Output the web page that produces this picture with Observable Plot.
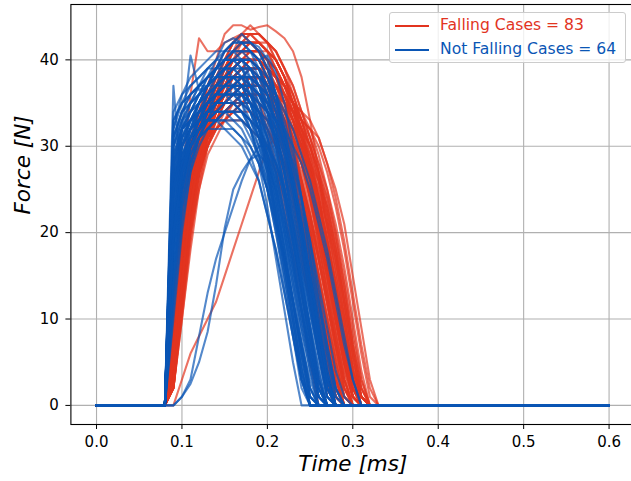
<!DOCTYPE html>
<html>
<head>
<meta charset="utf-8">
<script src="https://cdn.jsdelivr.net/npm/d3@7"></script>
<script src="https://cdn.jsdelivr.net/npm/@observablehq/plot@0.6"></script>
<style>
  html, body { margin: 0; padding: 0; background: white; overflow: hidden; }
  #wrap { position: relative; width: 631px; height: 481px; }
  #legend { position: absolute; left: 389px; top: 12px; width: 235px; height: 49px;
    background: rgba(255,255,255,0.8); border: 1px solid #cccccc; border-radius: 3px;
    font-family: "DejaVu Sans", sans-serif; font-size: 15.6px; }
  .item { position: absolute; left: 0; height: 20px; }
  .item .sw { position: absolute; left: 5px; width: 34px; height: 2px; }
  .item .lb { position: absolute; left: 50px; white-space: nowrap; line-height: 20px; top: -10px; }
</style>
</head>
<body>
<div id="wrap"></div>
<script>
// Sample times (ms) of each force curve, from impact onset
const tGrid = [0.08,0.09,0.10,0.11,0.12,0.13,0.14,0.15,0.16,0.17,0.18,0.19,0.20,0.21,0.22,0.23,0.24,0.25,0.26,0.27,0.28,0.29,0.30,0.31,0.32,0.33];
const tStart = 0.0;
const tEnd = 0.6;

// Falling cases: force [N] at tGrid (zero elsewhere)
const falling = [
[0,6,18,26,30,33,35,37,38,39,39,38,36,33,29,24,18,12,6,1,0],
[0,10,22,28,31,33,35,36,37,37,36,34,31,27,22,17,11,5,0],
[0,4,14,22,28,32,35,38,40,41,41,40,38,35,31,26,20,14,8,3,0],
[0,12,24,29,32,34,36,38,39,40,40,39,37,34,30,25,20,14,8,2,0],
[0,8,19,25,29,32,34,35,36,37,37,36,35,33,30,27,23,18,13,8,3,0],
[0,5,16,25,32,37,40,43,44,44,43.5,43.8,44,43.3,42.5,41,38,33,27,20,13,7,2,0],
[0,10,26,36,42.5,41,41,42,42.5,43,42,41,39,36,32,27,21,15,9,4,0],
[0,0,3,6,8,10,12,15,18,21,24,27,30,31,30,27,22,16,10,5,1,0],
[0,5,15,23,28,32,35,37,39,40,40,39,38,37,35,34,33,32,31,28,25,21,15,9,3,0],
[0,3,12,21,27,31,34,36,38,39,40,40,39,38,36,34,31,28,24,19,14,8,3,0],
[0,7,20,27,31,34,37,39,41,42,42,41,40,38,35,31,26,21,15,9,4,0],
[0,9,21,27,30,32,33,34,34,35,35,34,33,31,28,24,19,14,8,3,0],
[0,2,11,20,26,30,33,35,37,38,38,38,37,35,33,30,26,22,17,12,7,2,0],
[0,11,23,29,33,36,38,40,41,42,42,41,39,36,32,27,22,16,10,4,0],
[0,6,17,24,28,31,33,34,35,35,35,34,33,32,30,27,24,20,15,10,5,1,0],
[0,4,16,25,30,34,37,39,41,42,43,42,41,39,37,34,30,26,21,16,10,5,1,0],
[0,13,25,30,33,35,36,37,38,38,37,35,32,28,23,18,13,8,3,0],
[0,5,14,22,27,30,32,34,35,36,37,37,36,35,33,31,28,25,21,16,11,6,2,0],
[0,8,20,27,32,35,38,40,41,41,41,40,38,35,31,27,22,17,11,6,1,0],
[0,3,13,23,29,33,36,39,41,43,43,43,42,40,38,35,31,27,22,17,11,6,2,0],
[0,7,18,25,29,31,33,34,35,36,36,35,34,32,29,25,21,16,11,6,2,0],
[0,10,22,28,32,34,36,37,38,39,39,38,37,35,32,29,25,20,14,9,4,0],
[0,5,17,25,30,33,35,36,37,38,38,37,36,34,32,29,26,22,17,12,7,3,0],
[0,2,10,19,26,31,35,38,40,41,42,42,41,40,38,35,32,28,24,19,14,9,4,1,0],
[0,9,20,26,29,31,32,33,33,33,32,31,29,27,24,20,16,12,7,3,0],
[0,6,19,27,31,34,36,38,39,40,41,41,40,38,36,33,30,26,21,16,10,5,1,0],
[0,4,15,23,28,31,33,35,36,37,38,38,38,37,36,34,31,27,23,18,13,8,3,0],
[0,12,24,30,34,37,39,41,42,43,42,41,39,37,34,30,25,19,13,7,2,0],
[0,8,18,24,28,30,32,33,34,34,34,33,32,30,28,25,22,18,13,8,3,0],
[0,3,14,24,30,34,37,39,40,41,41,41,40,39,37,35,32,28,24,19,14,8,3,0],
[0,6,16,23,27,30,32,33,35,36,37,38,38,37,36,34,32,30,27,23,18,12,6,1,0],
[0,10,21,27,31,34,36,38,39,40,40,39,37,35,32,28,23,18,12,6,1,0],
[0,5,18,26,30,33,34,35,36,36,36,36,35,34,32,30,28,25,21,16,11,6,2,0],
[0,7,19,27,32,36,38,40,42,43,43,42,41,39,36,33,29,24,19,13,7,2,0],
[0,2,12,21,27,31,34,36,37,38,39,39,38,37,35,33,30,26,22,17,12,7,2,0],
[0,9,22,29,33,35,37,38,38,38,37,36,34,31,27,23,18,13,8,3,0],
[0,4,15,24,29,33,35,37,39,40,40,40,39,38,36,33,30,26,21,16,11,5,1,0],
[0,11,21,26,29,31,32,33,34,35,36,36,35,33,31,28,24,20,15,10,5,1,0],
[0,6,17,25,30,33,36,38,40,41,42,42,42,41,39,37,34,31,27,22,17,11,5,1,0],
[0,8,20,27,31,33,35,36,37,38,38,38,37,35,33,30,27,23,18,13,8,3,0],
[0,3,13,22,28,32,35,37,38,39,40,40,39,38,37,35,33,32,30,27,23,18,12,6,1,0],
[0,10,23,30,34,37,39,40,41,41,40,39,37,34,30,26,21,16,10,5,1,0],
[0,5,16,24,29,32,34,35,36,37,37,37,36,35,33,31,28,24,20,15,10,5,1,0],
[0,7,18,25,29,32,34,36,37,38,39,39,39,38,37,35,33,30,26,22,17,11,5,1,0],
[0,2,11,21,28,33,36,39,41,42,43,43,42,41,39,36,33,29,24,19,13,7,2,0],
[0,9,20,26,30,32,34,35,35,36,36,35,34,33,31,28,25,21,16,11,6,2,0],
[0,4,14,22,27,30,33,35,36,37,38,38,37,36,34,32,30,28,26,23,19,14,8,3,0],
[0,12,25,31,34,36,38,39,40,40,39,38,36,33,29,25,20,15,9,4,0],
[0,6,18,26,31,34,37,39,40,41,41,40,39,37,35,32,29,25,20,15,9,4,0],
[0,3,12,20,25,29,31,33,34,35,36,36,36,35,34,32,30,27,23,18,13,8,3,0],
[0,8,19,26,30,33,35,37,39,40,41,41,41,40,38,36,33,30,26,21,15,9,4,0],
[0,5,15,23,28,31,33,34,35,35,34,33,32,30,28,25,21,17,12,7,2,0],
[0,10,22,28,32,35,37,38,39,40,40,40,39,38,36,34,32,30,27,23,18,12,6,1,0],
[0,2,10,18,25,30,34,37,39,40,41,41,40,39,37,35,32,28,23,18,12,6,1,0],
[0,7,19,27,31,34,36,37,38,38,38,37,36,34,31,28,24,20,15,10,5,1,0],
[0,4,16,25,31,35,38,40,42,43,44,43,42,40,38,35,31,27,22,17,11,5,1,0],
[0,9,21,27,30,32,33,34,35,35,35,34,32,30,27,24,20,15,10,5,1,0],
[0,6,17,24,29,32,35,37,38,39,40,40,39,38,37,35,34,32,29,25,20,14,7,2,0],
[0,11,23,29,32,34,36,37,37,37,36,35,33,30,26,22,17,12,7,2,0],
[0,3,14,23,29,33,36,38,40,41,41,41,40,38,36,33,29,25,20,15,10,5,1,0],
[0,8,18,25,29,31,33,34,35,36,37,37,37,36,35,33,31,28,24,19,14,8,3,0],
[0,5,17,26,31,35,37,39,40,41,42,42,41,40,38,36,33,30,27,24,20,15,9,3,0],
[0,7,20,28,33,36,38,39,40,40,40,39,37,35,32,28,24,19,14,8,3,0],
[0,2,13,22,28,32,34,36,37,38,38,38,37,36,34,31,28,24,19,14,9,4,1,0],
[0,10,22,28,31,33,34,35,36,36,36,35,34,32,29,26,22,18,13,8,3,0],
[0,5,15,24,30,34,37,40,42,43,43,43,42,41,39,37,34,31,28,24,19,13,7,2,0],
[0,8,20,27,30,32,33,34,34,34,33,32,30,28,25,21,17,12,7,2,0],
[0,4,14,22,27,31,34,36,38,39,39,39,38,37,35,33,31,29,26,22,18,13,7,2,0],
[0,12,24,30,33,36,38,39,40,41,41,40,38,36,33,29,24,19,13,7,2,0],
[0,6,18,25,29,32,34,36,37,38,38,37,36,34,32,29,26,22,18,13,8,3,0],
[0,3,12,21,27,31,33,35,36,37,38,38,37,36,35,33,31,28,24,20,15,10,4,1,0],
[0,9,21,28,32,35,37,39,40,41,41,41,40,39,37,34,31,27,22,17,11,6,1,0],
[0,5,16,24,28,31,33,34,35,36,36,36,35,34,33,32,30,28,25,21,16,10,4,0],
[0,7,19,26,30,33,36,38,39,40,40,39,38,36,33,30,26,22,17,12,6,1,0],
[0,2,11,20,27,32,35,38,40,42,42,42,41,40,38,35,32,29,25,21,16,10,4,1,0],
[0,10,21,27,30,32,34,35,35,35,35,34,33,31,28,25,21,17,12,7,2,0],
[0,4,15,23,28,32,34,36,38,39,39,39,38,37,36,35,34,33,31,28,24,19,13,7,2,0],
[0,8,20,27,31,34,37,39,41,42,42,41,40,38,35,32,28,24,19,14,8,3,0],
[0,6,17,25,29,32,34,35,36,37,37,37,36,35,33,31,29,27,24,21,17,12,6,1,0],
[0,11,22,28,31,33,35,36,37,38,38,37,35,33,30,26,22,17,12,6,1,0],
[0,3,14,23,29,33,36,38,39,40,40,40,39,38,37,35,33,31,28,25,21,16,10,4,0],
[0,5,18,26,30,33,35,37,38,39,39,39,38,36,34,31,28,24,20,15,10,5,1,0],
[0,9,20,26,30,33,35,36,37,37,37,36,35,33,31,28,25,21,17,12,7,2,0]
];

// Not falling cases: force [N] at tGrid (zero elsewhere)
const notFalling = [
[0,37,25,30,32,34,35,36,36,36,35,33,30,26,21,16,10,5,1,0],
[0,20,32,40.5,36.5,37,38,39,40,40,39,37,34,30,25,19,13,7,2,0],
[0,0,1,2.5,5,8.5,14,20.5,25,27,28.5,29,28,25,21,16,11,6,2,0],
[0,0,1,3,8,13,17,20,23,26,28.5,30,30,28,25,21,16,11,6,2,0],
[0,25,30,32,34,35,36,37,37,36,34,31,27,22,17,11,5,0],
[0,30,33,35,37,38,39,40,40,39,37,33,28,22,16,10,4,0],
[0,18,27,31,33,35,37,38,39,40,40,39,36,32,27,21,15,9,3,0],
[0,28,32,34,36,38,40,42,42.5,42,42,41.5,40,36,31,25,19,12,6,1,0],
[0,22,29,32,34,35,36,36,37,37,36,34,31,27,22,17,11,6,1,0],
[0,33,35,36,37,38,38,38,37,35,32,28,23,17,11,5,0],
[0,15,25,30,33,35,37,39,40,41,41,40,38,35,31,26,20,14,8,3,0],
[0,26,31,33,34,35,35,35,35,34,33,31,28,24,20,15,10,5,1,0],
[0,20,28,32,35,37,39,41,42,42,41,40,40.5,38.5,35,30,24,17,10,4,0],
[0,31,34,35,36,36,36,36,35,34,32,29,25,20,14,8,2,0],
[0,12,22,28,31,33,34,35,36,37,37,36,35,33,30,26,21,15,9,4,0],
[0,27,31,33,35,37,38,39,40,40,39,37,34,30,25,19,13,7,2,0],
[0,24,29,31,32,33,33,34,34,34,33,32,30,27,23,18,13,8,3,0],
[0,32,36,38,39,40,41,41,41,40,38,35,31,26,20,14,8,2,0],
[0,19,27,30,32,34,35,36,37,38,38,37,36,33,29,25,20,15,9,4,0],
[0,29,32,33,34,34,35,35,35,34,32,29,25,20,15,9,3,0],
[0,16,25,30,33,36,38,40,41,42,42,41,39,36,32,27,21,15,9,4,0],
[0,25,30,32,33,34,34,34,33,32,30,28,25,21,17,12,7,2,0],
[0,21,28,32,35,37,38,39,40,40,40,39,37,34,30,25,19,13,7,2,0],
[0,30,34,36,37,38,39,39,39,38,36,33,29,24,18,12,6,1,0],
[0,14,24,29,31,32,33,34,34,35,35,34,33,31,28,24,20,15,10,5,1,0],
[0,27,32,35,37,39,40,41,42,42,41,39,36,32,27,21,15,9,3,0],
[0,23,29,31,32,33,33,33,32,31,29,26,22,18,13,8,3,0],
[0,18,26,30,32,34,35,36,37,37,37,36,34,31,27,23,18,13,8,3,0],
[0,33,35,36,37,37,38,38,38,37,35,32,28,23,18,12,6,1,0],
[0,20,27,30,32,33,35,36,37,38,39,39,38,36,33,29,24,19,13,7,2,0],
[0,26,30,32,33,34,35,36,36,36,35,33,31,28,24,19,14,9,4,0],
[0,10,20,27,31,34,36,38,39,40,40,39,37,34,30,25,20,14,8,3,0],
[0,28,33,35,36,37,37,37,36,35,33,30,26,21,16,10,4,0],
[0,22,28,31,33,35,36,37,38,38,38,37,35,32,28,23,18,12,6,1,0],
[0,31,34,35,36,37,38,39,39,38,36,33,29,24,18,12,6,1,0],
[0,17,26,30,32,33,34,34,34,34,33,31,29,26,22,17,12,7,2,0],
[0,24,30,33,35,37,39,40,41,41,40,38,35,31,26,20,14,8,2,0],
[0,29,32,33,33,33,33,32,31,30,28,26,22,18,13,8,3,0],
[0,19,27,31,34,36,37,38,38,38,37,36,34,31,27,22,17,11,6,1,0],
[0,32,35,37,38,39,40,40,40,39,37,34,30,25,19,13,7,1,0],
[0,13,23,28,31,33,35,36,37,38,38,38,37,35,32,28,23,18,12,6,1,0],
[0,26,30,32,33,34,35,35,35,35,34,32,29,25,20,15,9,4,0],
[0,21,28,31,33,34,35,36,36,36,35,34,32,29,25,20,15,10,5,1,0],
[0,30,33,34,35,36,37,38,38,37,35,32,27,21,15,9,3,0],
[0,16,25,29,31,32,33,33,33,33,32,31,30,28,25,21,16,11,6,2,0],
[0,25,31,34,36,38,39,40,41,41,41,40,38,35,31,26,20,14,8,3,0],
[0,28,31,32,33,34,34,34,34,33,31,29,26,22,17,12,7,2,0],
[0,20,28,32,34,36,37,38,38,38,37,35,32,28,24,19,14,9,4,0],
[0,34,36,37,38,39,39,39,38,37,35,32,28,23,17,11,5,0],
[0,11,21,27,30,32,33,34,35,36,36,35,34,32,29,25,21,16,11,6,2,0],
[0,24,29,31,32,34,35,36,37,37,37,36,34,31,27,22,17,12,7,2,0],
[0,27,32,34,36,37,38,39,39,39,38,36,33,29,24,18,12,6,1,0],
[0,18,26,30,32,33,34,34,34,33,32,30,27,23,19,14,9,4,0],
[0,23,30,33,35,37,39,41,42,43,42,41,39,36,32,27,21,15,9,3,0],
[0,30,32,33,34,35,36,36,36,35,34,32,29,25,21,16,11,6,1,0],
[0,15,24,29,32,34,36,37,38,39,39,38,37,36,34,32,29,26,22,18,13,8,3,0],
[0,26,31,33,34,35,36,37,37,37,36,34,31,27,22,17,11,5,1,0],
[0,22,28,30,31,32,32,32,32,31,30,28,25,21,17,12,7,3,0],
[0,31,34,36,37,38,39,40,40,40,39,37,34,30,25,20,14,8,3,0],
[0,19,27,31,33,35,36,37,38,38,38,37,35,33,30,26,22,17,12,7,2,0],
[0,28,32,34,35,36,37,37,37,36,34,31,27,22,16,10,4,0],
[0,14,23,28,31,33,34,35,36,37,37,37,36,34,31,28,24,19,14,9,4,1,0],
[0,25,30,33,35,36,37,38,39,39,39,38,36,33,29,24,19,13,7,2,0],
[0,20,27,30,32,34,35,36,36,36,36,35,34,33,32,30,28,25,21,17,12,7,3,0]
];

const xTicks = [0.0, 0.1, 0.2, 0.3, 0.4, 0.5, 0.6];
const yTicks = [0, 10, 20, 30, 40];
const groupNames = ["Falling Cases", "Not Falling Cases"];
const groupColors = ["#e2341f", "#0a56b5"];

function toRows(curves, group) {
  const rows = [];
  curves.forEach((vals, k) => {
    const id = group + "-" + k;
    rows.push({id, t: tStart, f: 0});
    vals.forEach((v, i) => rows.push({id, t: tGrid[i], f: v}));
    rows.push({id, t: tEnd, f: 0});
  });
  return rows;
}
const rowsF = toRows(falling, "F");
const rowsN = toRows(notFalling, "N");

const chart = Plot.plot({
  width: 631,
  height: 481,
  marginLeft: 70.4,
  marginRight: -3.2,
  marginTop: 4,
  marginBottom: 57,
  style: {fontFamily: "DejaVu Sans", fontSize: "15px", color: "black", background: "white"},
  x: {domain: [-0.03, 0.63], ticks: xTicks, tickFormat: d3.format(".1f"), tickSize: 5, tickPadding: 7, label: null},
  y: {domain: [-2.21, 46.41], ticks: yTicks, tickFormat: d3.format("d"), tickSize: 5, tickPadding: 7, label: null},
  marks: [
    Plot.ruleX(xTicks, {x: d => d, stroke: "#b0b0b0", strokeWidth: 1.1}),
    Plot.ruleY(yTicks, {y: d => d, stroke: "#b0b0b0", strokeWidth: 1.1}),
    Plot.line(rowsF, {x: "t", y: "f", z: "id", stroke: groupColors[0], strokeWidth: 2.1, strokeOpacity: 0.7, curve: "linear"}),
    Plot.line(rowsN, {x: "t", y: "f", z: "id", stroke: groupColors[1], strokeWidth: 2.1, strokeOpacity: 0.7, curve: "linear"}),
    Plot.frame({stroke: "black", strokeWidth: 1.1}),
    Plot.text(["Time [ms]"], {frameAnchor: "bottom", dy: 46, fontSize: 21.5, fontStyle: "italic", fill: "black"}),
    Plot.text(["Force [N]"], {frameAnchor: "left", dx: -48, rotate: -90, fontSize: 21.5, fontStyle: "italic", fill: "black"})
  ]
});
const wrap = document.getElementById("wrap");
wrap.appendChild(chart);

// Legend (overlay, matplotlib-style box)
const legend = document.createElement("div");
legend.id = "legend";
const counts = [falling.length, notFalling.length];
groupNames.forEach((name, i) => {
  const item = document.createElement("div");
  item.className = "item";
  item.style.top = (12 + i * 23.5) + "px";
  const sw = document.createElement("div");
  sw.className = "sw";
  sw.style.background = groupColors[i];
  const lb = document.createElement("div");
  lb.className = "lb";
  lb.style.color = groupColors[i];
  lb.textContent = name + " = " + counts[i];
  item.appendChild(sw);
  item.appendChild(lb);
  legend.appendChild(item);
});
wrap.appendChild(legend);
</script>
</body>
</html>
